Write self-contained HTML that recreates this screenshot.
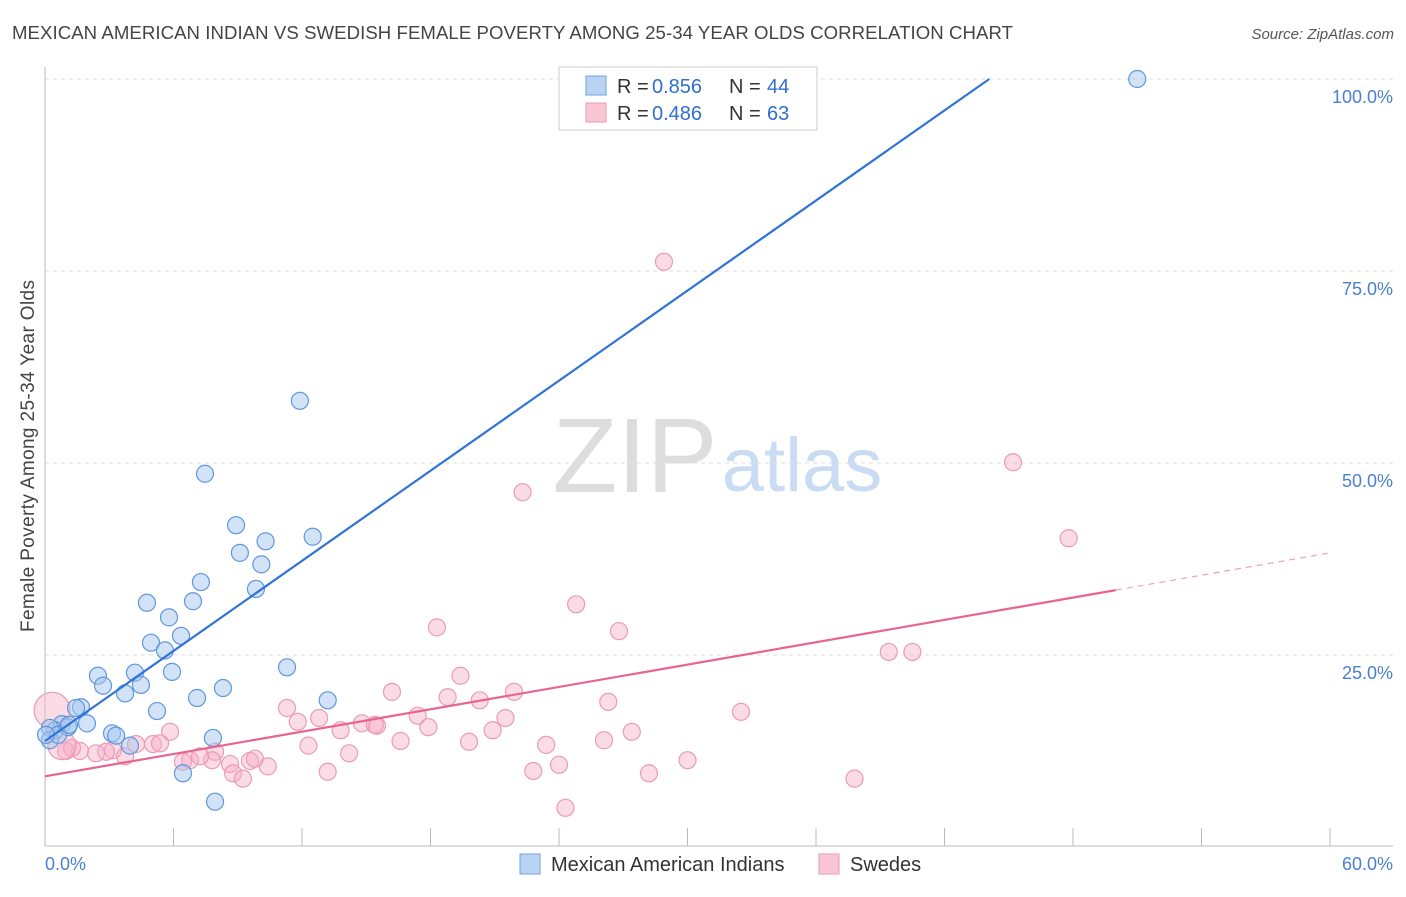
<!DOCTYPE html>
<html><head><meta charset="utf-8"><style>
body{margin:0;background:#fff;font-family:"Liberation Sans",sans-serif}
svg text{font-family:"Liberation Sans",sans-serif}
</style></head><body>
<svg id="c" width="1406" height="892">
<text x="12" y="39" font-size="18.6" fill="#444" textLength="1001">MEXICAN AMERICAN INDIAN VS SWEDISH FEMALE POVERTY AMONG 25-34 YEAR OLDS CORRELATION CHART</text>
<text x="1394" y="39" font-size="15" fill="#555" font-style="italic" text-anchor="end">Source: ZipAtlas.com</text>
<text x="635" y="492" font-size="106" fill="#ddd" font-family="Liberation Serif" text-anchor="middle">ZIP</text>
<text x="802" y="491" font-size="76" fill="#c9dcf3" text-anchor="middle">atlas</text>
<text transform="translate(34,456) rotate(-90)" font-size="19" fill="#444" text-anchor="middle" textLength="352">Female Poverty Among 25-34 Year Olds</text>
<g id="grid"></g><g id="pts"></g><g id="lines"></g>
<g>
<rect x="559" y="67" width="258" height="63" fill="#fff" stroke="#ccc"/>
<rect x="586" y="76" width="20" height="19" fill="#b9d3f3" stroke="#6fa3e0"/>
<rect x="586" y="103" width="20" height="19" fill="#f9c6d6" stroke="#e89ab5"/>
<text y="93" font-size="20" fill="#333"><tspan x="617">R =</tspan><tspan x="652" fill="#2f6fd0">0.856</tspan><tspan x="729">N =</tspan><tspan x="767" fill="#2f6fd0">44</tspan></text>
<text y="120" font-size="20" fill="#333"><tspan x="617">R =</tspan><tspan x="652" fill="#2f6fd0">0.486</tspan><tspan x="729">N =</tspan><tspan x="767" fill="#2f6fd0">63</tspan></text>
</g>
<g>
<rect x="520" y="854" width="20" height="20" fill="#b9d3f3" stroke="#6fa3e0"/>
<text x="551" y="871" font-size="20" fill="#333">Mexican American Indians</text>
<rect x="819" y="854" width="20" height="20" fill="#f9c6d6" stroke="#e89ab5"/>
<text x="850" y="871" font-size="20" fill="#333">Swedes</text>
</g>
<text x="45" y="870" font-size="18" fill="#4a7fd4">0.0%</text>
<text x="1393" y="870" font-size="18" fill="#4a7fd4" text-anchor="end">60.0%</text>
</svg>
<script>
const yTicks=[25,50,75,100];
const blueX=[51.0,11.9,7.47,12.5,8.92,10.3,9.10,10.1,9.85,7.28,4.76,6.91,5.79,4.95,6.35,5.60,4.20,5.93,2.47,3.74,2.71,4.48,11.3,13.2,7.10,8.31,5.23,1.68,1.45,1.96,0.79,0.47,0.23,3.13,3.32,7.84,3.97,6.44,7.94,0.23,1.07,0.61,1.12,0.05];
const blueY=[100.0,58.1,48.6,40.4,41.9,39.8,38.3,36.8,33.6,34.5,31.8,32.0,29.9,26.6,27.5,25.6,22.7,22.8,22.3,20.0,21.0,21.1,23.4,19.1,19.4,20.7,17.7,18.2,18.1,16.1,16.0,15.2,15.5,14.8,14.5,14.2,13.2,9.6,5.9,13.9,15.6,14.6,15.9,14.6];
const pinkX=[28.9,45.2,47.8,22.3,24.8,26.8,18.3,39.4,40.5,19.4,16.2,21.9,26.3,18.8,20.3,11.3,32.5,12.8,11.8,14.8,15.5,15.4,17.4,17.9,21.5,20.9,13.8,5.84,16.6,19.8,23.4,26.1,27.4,12.3,14.2,5.04,5.37,4.25,3.17,2.85,3.74,2.38,1.63,0.98,1.26,6.77,7.94,8.64,9.57,10.4,9.80,7.80,7.24,6.44,22.8,24.0,30.0,28.2,13.2,8.78,9.24,37.8,24.3,0.33,0.79];
const pinkY=[76.2,50.1,40.2,46.2,31.6,28.1,28.6,25.4,25.4,22.3,20.2,20.2,18.9,19.5,19.1,18.1,17.6,16.8,16.3,16.1,15.8,15.9,17.1,15.6,16.8,15.2,15.2,15.0,13.8,13.7,13.3,13.9,15.0,13.2,12.2,13.4,13.5,13.4,12.6,12.4,11.8,12.2,12.5,12.5,12.9,11.3,12.4,10.8,11.2,10.5,11.5,11.3,11.8,11.1,9.9,10.7,11.3,9.6,9.8,9.6,8.9,8.9,5.1,17.8,13.2];
const pinkR=[8.5,8.5,8.5,8.5,8.5,8.5,8.5,8.5,8.5,8.5,8.5,8.5,8.5,8.5,8.5,8.5,8.5,8.5,8.5,8.5,8.5,8.5,8.5,8.5,8.5,8.5,8.5,8.5,8.5,8.5,8.5,8.5,8.5,8.5,8.5,8.5,8.5,8.5,8.5,8.5,8.5,8.5,8.5,8.5,8.5,8.5,8.5,8.5,8.5,8.5,8.5,8.5,8.5,8.5,8.5,8.5,8.5,8.5,8.5,8.5,8.5,8.5,8.5,18,14];
const blueTrend=[13.8,1.955];
const pinkTrend=[9.2,0.485];
const NS='http://www.w3.org/2000/svg';
const X=v=>45+v/60*1285, Y=v=>847-v/100*768;
function mk(t,a,p){const e=document.createElementNS(NS,t);for(const k in a)e.setAttribute(k,a[k]);p.appendChild(e);return e;}
const g=document.getElementById('grid');
yTicks.forEach(t=>{
 const l=mk('line',{x1:45,x2:1393,y1:Y(t),y2:Y(t),stroke:'#ddd','stroke-dasharray':'4,4'},g);
 
 
 const tx=mk('text',{x:1393,y:Y(t)+24,'font-size':18,fill:'#4a7fd4','text-anchor':'end'},g);
 tx.textContent=t.toFixed(1)+'%';
 
 
});
mk('line',{x1:45,x2:45,y1:67,y2:846,stroke:'#bbb'},g);
mk('line',{x1:45,x2:1393,y1:846,y2:846,stroke:'#bbb'},g);
for(let i=0;i<=10;i++){const t=mk('line',{x1:X(i*6),x2:X(i*6),y1:828,y2:846,stroke:'#bbb'},g);
 
 }
const p=document.getElementById('pts');
pinkX.forEach((v,i)=>{const c=mk('circle',{cx:X(v),cy:Y(pinkY[i]),r:pinkR[i],fill:'rgba(246,175,198,0.45)',stroke:'#eb9bb6','stroke-width':1.2},p);
 
 });
blueX.forEach((v,i)=>{const c=mk('circle',{cx:X(v),cy:Y(blueY[i]),r:8.5,fill:'rgba(165,198,240,0.5)',stroke:'#5f97dd','stroke-width':1.2},p);
 
 });
const L=document.getElementById('lines');
const bx2=(100-blueTrend[0])/blueTrend[1];
const bl=mk('line',{x1:X(0),y1:Y(blueTrend[0]),x2:X(bx2),y2:Y(100),stroke:'#2f74d6','stroke-width':2.2},L);


const pl=mk('line',{x1:X(0),y1:Y(pinkTrend[0]),x2:X(50),y2:Y(pinkTrend[0]+50*pinkTrend[1]),stroke:'#e8648f','stroke-width':2.2},L);


const pd=mk('line',{x1:X(50),y1:Y(pinkTrend[0]+50*pinkTrend[1]),x2:X(60),y2:Y(pinkTrend[0]+60*pinkTrend[1]),stroke:'#eca0b8','stroke-width':1.2,'stroke-dasharray':'6,5'},L);


</script>
</body></html>
